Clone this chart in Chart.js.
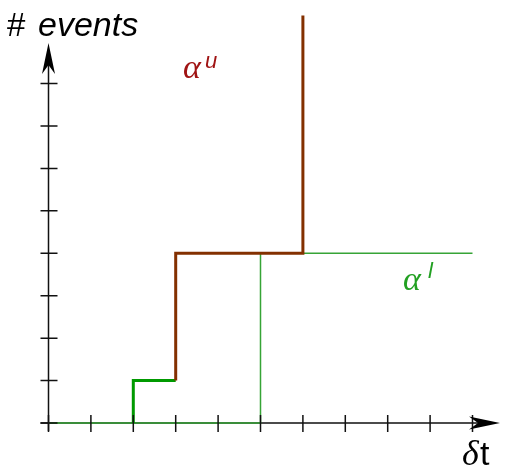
<!DOCTYPE html>
<html>
<head>
<meta charset="utf-8">
<script src="https://cdn.jsdelivr.net/npm/chart.js@4"></script>
<style>
  html, body { margin: 0; padding: 0; background: #fff; }
  #wrap { width: 513px; height: 467px; position: relative; }
</style>
</head>
<body>
<div id="wrap"><canvas id="steps"></canvas></div>
<script>
// lower curve (thin green)
var lowerX = [0, 5, 5, 10];
var lowerY = [0, 0, 4, 4];
// upper curve, first part drawn green, rest brown
var upperGreenX = [2, 2, 3];
var upperGreenY = [0, 1, 1];
var upperBrownX = [3, 3, 6, 6];
var upperBrownY = [1, 4, 4, 9.6];
// axis tick positions
var xTicks = [0, 1, 2, 3, 4, 5, 6, 7, 8, 9, 10];
var yTicks = [0, 1, 2, 3, 4, 5, 6, 7, 8];

function pts(xs, ys) {
    return xs.map(function (x, i) { return { x: x, y: ys[i] }; });
}

function arrow(ctx, tx, ty, dx, dy) {
    // tip at (tx,ty), pointing along (dx,dy)
    var len = 31, half = 6.5, notch = 22;
    var px = -dy, py = dx;
    ctx.beginPath();
    ctx.moveTo(tx, ty);
    ctx.lineTo(tx - dx * len + px * half, ty - dy * len + py * half);
    ctx.lineTo(tx - dx * notch, ty - dy * notch);
    ctx.lineTo(tx - dx * len - px * half, ty - dy * len - py * half);
    ctx.closePath();
    ctx.fill();
}

var axesPlugin = {
    id: 'axesPlugin',
    beforeDatasetsDraw: function (chart) {
        var ctx = chart.ctx, xs = chart.scales.x, ys = chart.scales.y;
        var x0 = xs.getPixelForValue(0), y0 = ys.getPixelForValue(0);
        ctx.save();
        ctx.strokeStyle = '#111';
        ctx.lineWidth = 1.5;
        ctx.beginPath();
        ctx.moveTo(x0 - 8, y0);
        ctx.lineTo(492, y0);
        ctx.moveTo(x0, y0 + 8);
        ctx.lineTo(x0, 50);
        ctx.stroke();
        ctx.restore();
    },
    afterDraw: function (chart) {
        var ctx = chart.ctx, xs = chart.scales.x, ys = chart.scales.y;
        var x0 = xs.getPixelForValue(0), y0 = ys.getPixelForValue(0);
        ctx.save();
        ctx.strokeStyle = '#111';
        ctx.fillStyle = '#000';
        ctx.lineWidth = 1.5;
        ctx.beginPath();
        xTicks.forEach(function (v) {
            var p = xs.getPixelForValue(v);
            ctx.moveTo(p, y0 - 8);
            ctx.lineTo(p, y0 + 9);
        });
        yTicks.forEach(function (v) {
            var p = ys.getPixelForValue(v);
            ctx.moveTo(x0 - 8, p);
            ctx.lineTo(x0 + 9, p);
        });
        ctx.stroke();
        arrow(ctx, 500, y0, 1, 0);
        arrow(ctx, x0, 43, 0, -1);

        // axis labels
        ctx.textBaseline = 'alphabetic';
        ctx.font = '33px "Liberation Sans", sans-serif';
        ctx.fillText('#', 7, 36);
        ctx.font = 'italic 34px "Liberation Sans", sans-serif';
        ctx.fillText('events', 38, 36);

        ctx.font = 'italic 36px "Liberation Serif", serif';
        ctx.fillText('\u03b4', 462, 465);
        ctx.font = '34px "Liberation Sans", sans-serif';
        ctx.fillText('t', 480, 465);

        // curve labels
        ctx.fillStyle = '#a01414';
        ctx.font = 'italic 34px "Liberation Serif", serif';
        ctx.fillText('\u03b1', 183, 78);
        ctx.font = 'italic 22px "Liberation Sans", sans-serif';
        ctx.fillText('u', 205, 68);

        ctx.fillStyle = '#22a022';
        ctx.font = 'italic 34px "Liberation Serif", serif';
        ctx.fillText('\u03b1', 403, 290);
        ctx.font = 'italic 22px "Liberation Sans", sans-serif';
        ctx.fillText('l', 428, 278);
        ctx.restore();
    }
};

new Chart(document.getElementById('steps'), {
    type: 'scatter',
    data: {
        datasets: [
            {
                label: 'upper',
                data: pts(upperBrownX, upperBrownY),
                borderColor: '#833000',
                borderWidth: 3,
                showLine: true,
                pointRadius: 0,
                clip: false,
                order: 0
            }, {
                label: 'upper start',
                data: pts(upperGreenX, upperGreenY),
                borderColor: '#009a00',
                borderWidth: 3,
                showLine: true,
                pointRadius: 0,
                clip: false,
                order: 1
            }, {
                label: 'lower',
                data: pts(lowerX, lowerY),
                borderColor: '#36a436',
                borderWidth: 1.5,
                showLine: true,
                pointRadius: 0,
                clip: false,
                order: 2
            }
        ]
    },
    options: {
        responsive: true,
        maintainAspectRatio: false,
        animation: false,
        layout: {
            padding: { left: 48.5, right: 19.3, top: 15.6, bottom: 44 }
        },
        scales: {
            x: { type: 'linear', min: 0, max: 10.5, display: false },
            y: { type: 'linear', min: 0, max: 9.6, display: false }
        },
        plugins: {
            legend: { display: false },
            tooltip: { enabled: false }
        }
    },
    plugins: [axesPlugin]
});
</script>
</body>
</html>
